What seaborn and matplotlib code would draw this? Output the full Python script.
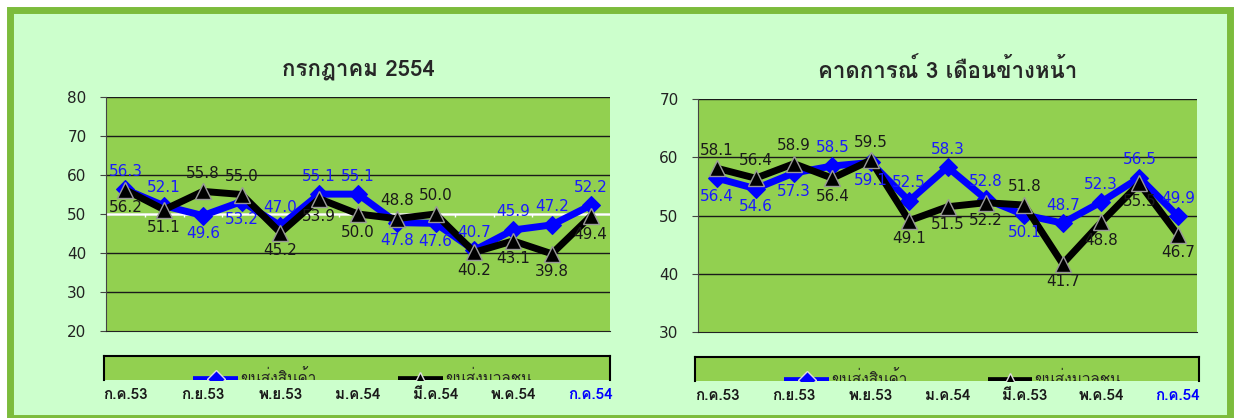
import matplotlib
matplotlib.use("Agg")
import matplotlib.pyplot as plt
import seaborn as sns
import pandas as pd
from matplotlib import font_manager
from matplotlib.ft2font import FT2Font
from matplotlib.patches import Rectangle

# data
months = list(range(13))
tick_pos = [0, 2, 4, 6, 8, 10, 12]
left_ticks = ['ก.ค.53', 'ก.ย.53', 'พ.ย.53', 'ม.ค.54', 'มี.ค.54', 'พ.ค.54', 'ก.ค.54']
right_ticks = ['ก.ค.53', 'ก.ย.53', 'พ.ย.53', 'ม.ค.54', 'มี.ค.53', 'พ.ค.54', 'ก.ค.54']
left_title = 'กรกฎาคม 2554'
right_title = 'คาดการณ์ 3 เดือนข้างหน้า'
series_names = ['ขนส่งสินค้า', 'ขนส่งมวลชน']

left_goods = [56.3, 52.1, 49.6, 53.2, 47.0, 55.1, 55.1, 47.8, 47.6, 40.7, 45.9, 47.2, 52.2]
left_mass = [56.2, 51.1, 55.8, 55.0, 45.2, 53.9, 50.0, 48.8, 50.0, 40.2, 43.1, 39.8, 49.4]
right_goods = [56.4, 54.6, 57.3, 58.5, 59.1, 52.5, 58.3, 52.8, 50.1, 48.7, 52.3, 56.5, 49.9]
right_mass = [58.1, 56.4, 58.9, 56.4, 59.5, 49.1, 51.5, 52.2, 51.8, 41.7, 48.8, 55.5, 46.7]

# label placement: 1 above, -1 below
left_goods_pos = [1, 1, -1, -1, 1, 1, 1, -1, -1, 1, 1, 1, 1]
left_mass_pos = [-1, -1, 1, 1, -1, -1, -1, 1, 1, -1, -1, -1, -1]
right_goods_pos = [-1, -1, -1, 1, -1, 1, 1, 1, -1, 1, 1, 1, 1]
right_mass_pos = [1, 1, 1, -1, 1, -1, -1, -1, 1, -1, -1, -1, -1]


def find_thai_font():
    for f in font_manager.fontManager.ttflist:
        try:
            if 0x0E01 in FT2Font(f.fname).get_charmap():
                return f.name
        except Exception:
            pass
    return None


sns.set_style("white")
thai = find_thai_font()
fams = ([thai] if thai else []) + ['DejaVu Sans']
plt.rcParams['font.family'] = fams

W, H = 1242, 418
BG = '#ccffcc'
PLOT = '#92d050'
BLUE = '#0000ff'
BORDER = '#7cbc3c'

fig = plt.figure(figsize=(W / 100, H / 100), dpi=100)
fig.patch.set_facecolor('white')
fig.patches.append(Rectangle((10 / W, 0), 1220 / W, 1 - 10 / H, transform=fig.transFigure,
                             facecolor=BG, edgecolor=BORDER, linewidth=5, zorder=-10))


def fx(px):
    return px / W


def fy(py):
    return 1 - py / H


def draw_panel(x0, x1, y0, y1, ylim, goods, mass, gpos, mpos, ticks, title, white_mid):
    ax = fig.add_axes([fx(x0), fy(y1), fx(x1 - x0), (y1 - y0) / H])
    ax.set_facecolor(PLOT)
    df = pd.DataFrame({'month': months, 'goods': goods, 'mass': mass})
    sns.lineplot(data=df, x='month', y='goods', ax=ax, color=BLUE, lw=5, marker='D',
                 markersize=9, markeredgecolor=BLUE, zorder=4)
    sns.lineplot(data=df, x='month', y='mass', ax=ax, color='black', lw=5, marker='^',
                 markersize=11, markeredgecolor='#999999', markeredgewidth=1, zorder=5)
    ax.set_xlim(-0.5, 12.5)
    ax.set_ylim(*ylim)
    yt = list(range(ylim[0], ylim[1] + 1, 10))
    ax.set_yticks(yt)
    ax.set_yticklabels([str(v) for v in yt], fontsize=11, color='#222222', family='DejaVu Sans')
    ax.tick_params(axis='y', length=4, color='#444444', direction='out', left=True, pad=10)
    for v in yt[1:]:
        ax.axhline(v, color='#1a1a1a', lw=1, zorder=1)
    if white_mid:
        ax.axhline(50, color='white', lw=1.8, zorder=2)
        ax.vlines([i + 0.5 for i in months[:-1]], 49.3, 50, color='white', lw=1, zorder=2)
    ax.set_xticks(tick_pos)
    ax.set_xticklabels(ticks, fontsize=11, fontweight='bold', color='#1a1a1a')
    ax.get_xticklabels()[-1].set_color(BLUE)
    ax.tick_params(axis='x', length=0, pad=41)
    ax.set_xlabel('')
    ax.set_ylabel('')
    for s in ['top', 'right']:
        ax.spines[s].set_visible(False)
    ax.spines['left'].set_color('#444444')
    ax.spines['bottom'].set_color('#222222')
    for i in months:
        ax.annotate(f'{goods[i]:.1f}', (i, goods[i]), xytext=(0, 13 * gpos[i]), textcoords='offset points',
                    ha='center', va='center', fontsize=11, color='#1a1aff', family='DejaVu Sans', zorder=6)
        ax.annotate(f'{mass[i]:.1f}', (i, mass[i]), xytext=(0, 13 * mpos[i]), textcoords='offset points',
                    ha='center', va='center', fontsize=11, color='#1a1a1a', family='DejaVu Sans', zorder=6)
    fig.text(fx((x0 + x1) / 2), fy(70), title, ha='center', va='center', fontsize=16, fontweight='bold')
    return ax


def draw_legend(x0, x1, y0, y1, b0, b1, k0, k1):
    lg = fig.add_axes([fx(x0), fy(y1), fx(x1 - x0), (y1 - y0) / H])
    lg.set_facecolor(PLOT)
    lg.set_xlim(x0, x1)
    lg.set_ylim(y1, y0)
    lg.set_xticks([])
    lg.set_yticks([])
    lg.spines['bottom'].set_visible(False)
    for s in ['top', 'left', 'right']:
        lg.spines[s].set_color('black')
        lg.spines[s].set_linewidth(1.5)
    ly = y1 + 1
    lg.plot([b0, b1], [ly, ly], color=BLUE, lw=7, solid_capstyle='butt', clip_on=True)
    lg.plot([(b0 + b1) / 2], [ly - 2], marker='D', color=BLUE, markersize=9, markeredgecolor='#dddddd', clip_on=True)
    lg.plot([k0, k1], [ly, ly], color='black', lw=7, solid_capstyle='butt', clip_on=True)
    lg.plot([(k0 + k1) / 2], [ly - 2], marker='^', color='black', markersize=10, markeredgecolor='#dddddd', clip_on=True)
    lg.text(b1 + 2, y1 - 2, series_names[0], fontsize=11, va='center', ha='left', color='#222222', clip_on=True)
    lg.text(k1 + 2, y1 - 2, series_names[1], fontsize=11, va='center', ha='left', color='#222222', clip_on=True)


draw_panel(106, 610, 97, 331, (20, 80), left_goods, left_mass, left_goods_pos, left_mass_pos,
           left_ticks, left_title, True)
draw_panel(698, 1197, 99, 332, (30, 70), right_goods, right_mass, right_goods_pos, right_mass_pos,
           right_ticks, right_title, False)
draw_legend(104, 610, 356, 380, 193, 238, 398, 443)
draw_legend(695, 1199, 357, 381, 784, 829, 988, 1032)

fig.savefig('out.png', dpi=100, facecolor=fig.get_facecolor())
